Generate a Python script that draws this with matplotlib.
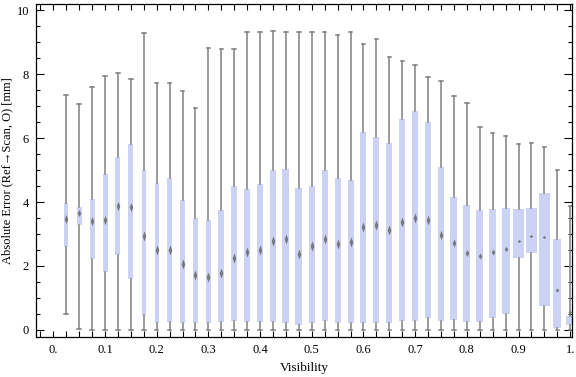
import numpy as np
import matplotlib
matplotlib.use("Agg")
import matplotlib.pyplot as plt
from matplotlib.ticker import MultipleLocator

plt.rcParams['font.family'] = ['Liberation Serif', 'DejaVu Serif']

# visibility bins (box centres)
vis = [0.025 * (i + 1) for i in range(40)]

# box-whisker statistics [mm]
lo = [0.50, 0.02, 0.0, 0.0, 0.0, 0.0, 0.0, 0.0, 0.0, 0.0,
      0.0, 0.0, 0.0, 0.0, 0.0, 0.0, 0.0, 0.0, 0.0, 0.0,
      0.0, 0.0, 0.0, 0.0, 0.0, 0.0, 0.0, 0.0, 0.0, 0.0,
      0.0, 0.0, 0.0, 0.0, 0.0, 0.0, 0.0, 0.0, 0.0, 0.0]
q1 = [2.60, 3.29, 2.21, 1.82, 2.34, 1.58, 0.48, 0.23, 0.26, 0.23,
      0.21, 0.23, 0.26, 0.29, 0.26, 0.26, 0.26, 0.23, 0.17, 0.23,
      0.29, 0.23, 0.21, 0.21, 0.23, 0.21, 0.29, 0.29, 0.36, 0.29,
      0.31, 0.26, 0.26, 0.38, 0.51, 2.26, 2.42, 0.76, 0.07, 0.16]
med = [3.46, 3.65, 3.40, 3.44, 3.88, 3.85, 2.94, 2.50, 2.50, 2.05,
       1.72, 1.67, 1.77, 2.26, 2.43, 2.50, 2.79, 2.84, 2.38, 2.63,
       2.84, 2.69, 2.76, 3.23, 3.28, 3.13, 3.38, 3.49, 3.44, 2.97,
       2.71, 2.40, 2.31, 2.43, 2.52, 2.77, 2.93, 2.91, 1.24, 0.57]
q3 = [3.96, 3.83, 4.08, 4.88, 5.41, 5.80, 5.00, 4.59, 4.75, 4.06,
      3.50, 3.44, 3.75, 4.50, 4.41, 4.56, 5.00, 5.03, 4.44, 4.50,
      5.00, 4.75, 4.69, 6.19, 6.03, 5.84, 6.59, 6.84, 6.50, 5.09,
      4.16, 3.91, 3.75, 3.78, 3.80, 3.78, 3.80, 4.28, 2.84, 0.44]
hi = [7.33, 7.05, 7.61, 7.93, 8.02, 7.86, 9.27, 7.71, 7.71, 7.46,
      6.93, 8.82, 8.77, 8.77, 9.30, 9.30, 9.34, 9.30, 9.30, 9.30,
      9.30, 9.22, 9.30, 8.94, 9.11, 8.54, 8.40, 8.27, 7.90, 7.77,
      7.30, 7.08, 6.33, 6.17, 6.05, 5.80, 5.83, 5.71, 4.99, 3.89]

# relative box widths (as drawn in the chart)
rel_w = [4.0, 4.7, 5.0, 5.0, 5.0, 5.0, 4.5, 4.0, 4.3, 4.3,
         4.3, 5.0, 6.0, 6.0, 6.0, 6.0, 6.0, 7.0, 7.0, 6.0,
         6.0, 6.0, 6.0, 6.0, 6.0, 6.0, 6.0, 6.3, 6.0, 6.0,
         7.0, 7.0, 7.0, 7.3, 8.0, 10.3, 11.0, 10.7, 8.0, 9.0]
# height of the median diamond
dia_h = [9, 7, 9, 9, 9, 9, 10, 10, 10, 10,
         10, 10, 10, 10, 10, 10, 10, 10, 10, 10,
         10, 10, 10, 10, 10, 10, 10, 10, 10, 9,
         8, 7, 6, 6, 5, 3, 3, 3, 4, 3]

xticks = [0.0, 0.1, 0.2, 0.3, 0.4, 0.5, 0.6, 0.7, 0.8, 0.9, 1.0]
xticklabels = ["0.", "0.1", "0.2", "0.3", "0.4", "0.5", "0.6", "0.7", "0.8", "0.9", "1."]

fig = plt.figure(figsize=(5.76, 3.77), dpi=100)
ax = fig.add_axes([0.0625, 0.1061, 0.9305, 0.8833])

px = 1.0 / 517  # one pixel in data units along x

stats = [dict(whislo=a, q1=b, med=c, q3=d, whishi=e, fliers=[])
         for a, b, c, d, e in zip(lo, q1, med, q3, hi)]
widths = [w * px for w in rel_w]
ax.bxp(stats, positions=vis, widths=widths, capwidths=3.5 * px,
       patch_artist=True, manage_ticks=False,
       boxprops=dict(facecolor='#cbd2f4', edgecolor='none', linewidth=0),
       whiskerprops=dict(color='#808080', linewidth=1.1),
       capprops=dict(color='#808080', linewidth=1.1),
       medianprops=dict(linewidth=0))

# median diamonds (half width ~1.8 px)
hw = 1.8
for x, m, h in zip(vis, med, dia_h):
    verts = [(0, h / 2), (hw, 0), (0, -h / 2), (-hw, 0), (0, h / 2)]
    size = max(h, 2 * hw) * 0.72
    ax.plot([x], [m], marker=verts, markersize=size, color='#6e6e6e',
            markeredgewidth=0, alpha=0.9, zorder=5)

ax.set_xlim(-0.0335, 1.0033)
ax.set_ylim(-0.22, 10.19)

ax.set_xticks(xticks)
ax.set_xticklabels(xticklabels)
ax.xaxis.set_minor_locator(MultipleLocator(0.025))
ax.set_yticks([0, 2, 4, 6, 8, 10])
ax.yaxis.set_minor_locator(MultipleLocator(0.5))

ax.tick_params(which='both', direction='in', top=True, right=True,
               labelsize=9, colors='black', width=0.8, pad=5)
ax.tick_params(axis='x', which='major', length=4)
ax.tick_params(axis='x', which='minor', length=4)
ax.tick_params(axis='y', which='major', length=5.5)
ax.tick_params(axis='y', which='minor', length=3)
for s in ax.spines.values():
    s.set_linewidth(0.9)

ax.set_xlabel("Visibility", fontsize=9.5, labelpad=4)
ax.set_ylabel("Absolute Error (Ref\u2192Scan, O) [mm]", fontsize=9)
ax.yaxis.set_label_coords(-0.042, 0.5)

fig.savefig("out.png", dpi=100)
